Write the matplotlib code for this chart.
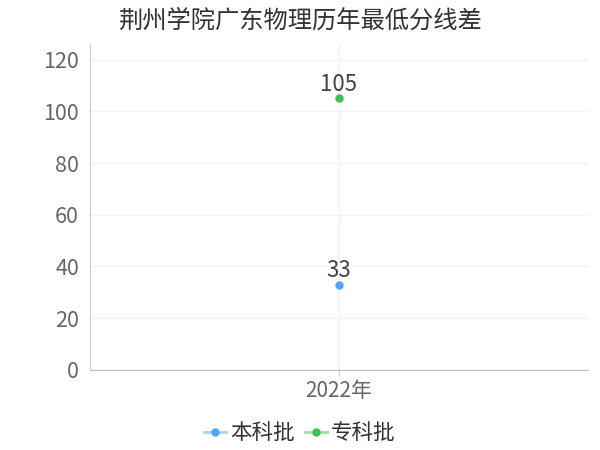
import matplotlib
matplotlib.use("Agg")
import matplotlib.pyplot as plt
from matplotlib.lines import Line2D

plt.rcParams['font.family'] = ['Noto Sans CJK SC', 'DejaVu Sans']

title = "荆州学院广东物理历年最低分线差"
years = ["2022年"]
series_names = ["本科批", "专科批"]
series_values = [[33], [105]]
series_colors = ["#4da6ff", "#3cc152"]
legend_line_colors = ["#a6d3ff", "#9de0a9"]

fig = plt.figure(figsize=(6, 4.5), dpi=100)
ax = fig.add_axes([0.15, 0.178, 0.83, 0.724])

x = list(range(len(years)))
for name, vals, col in zip(series_names, series_values, series_colors):
    ax.plot(x, vals, color=col, marker="o", markersize=5, linewidth=2, label=name)
    for xi, v in zip(x, vals):
        ax.annotate(str(v), (xi, v), xytext=(0, 2), textcoords="offset points",
                    ha="center", va="bottom", fontsize=16, color="#444444")

ax.set_xlim(-0.5, 0.5)
ax.set_ylim(0, 126)
ax.set_yticks([0, 20, 40, 60, 80, 100, 120])
ax.set_xticks(x)
ax.set_xticklabels(years)
ax.tick_params(axis="y", labelsize=15.5, colors="#666666", length=0, pad=8)
ax.tick_params(axis="x", labelsize=15, colors="#666666", length=4, pad=3)
ax.tick_params(axis="x", color="#cccccc")
ax.grid(True, color="#f2f2f2", linewidth=1)
ax.set_axisbelow(True)
for s in ["top", "right"]:
    ax.spines[s].set_visible(False)
ax.spines["left"].set_color("#cccccc")
ax.spines["bottom"].set_color("#bbbbbb")

fig.suptitle(title, x=0.5, y=0.982, fontsize=17.5, color="#333333")

handles = [Line2D([0], [0], color=lc, marker="o", markersize=5, linewidth=2,
                  markerfacecolor=c, markeredgecolor=c)
           for c, lc in zip(series_colors, legend_line_colors)]
fig.legend(handles, series_names, loc="lower center", bbox_to_anchor=(0.5, -0.03),
           ncol=2, frameon=False, fontsize=15.5, handlelength=1.0, handletextpad=0.2,
           columnspacing=0.5, labelcolor="#333333")

fig.savefig("out.png", dpi=100)
